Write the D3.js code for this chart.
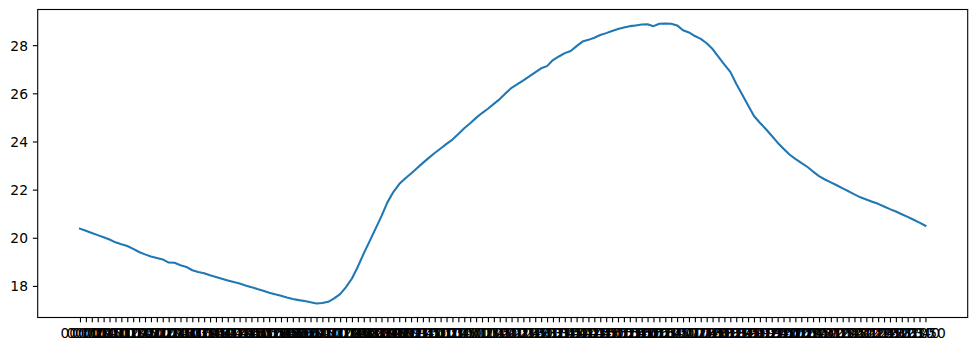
<!DOCTYPE html>
<html>
<head>
<meta charset="utf-8">
<script src="https://cdn.jsdelivr.net/npm/d3@7"></script>
<style>
  html, body { margin: 0; padding: 0; background: #ffffff; }
  svg { display: block; }
</style>
</head>
<body>
<svg id="chart" width="977" height="351"></svg>
<script>
// ---- data ----
// time of day categories, every 10 minutes
const times = d3.range(0, 24 * 60, 10).map(m =>
  String(Math.floor(m / 60)).padStart(2, "0") + ":" + String(m % 60).padStart(2, "0"));

// series values
const values = [
  20.38, 20.29, 20.20, 20.11, 20.02, 19.93, 19.81, 19.73, 19.66, 19.54,
  19.41, 19.31, 19.22, 19.16, 19.10, 18.97, 18.96, 18.86, 18.79, 18.65,
  18.58, 18.53, 18.44, 18.37, 18.30, 18.23, 18.16, 18.10, 18.02, 17.95,
  17.87, 17.80, 17.72, 17.65, 17.59, 17.52, 17.46, 17.41, 17.37, 17.32,
  17.27, 17.29, 17.34, 17.48, 17.66, 17.95, 18.31, 18.80, 19.35, 19.86,
  20.38, 20.90, 21.47, 21.90, 22.23, 22.46, 22.67, 22.89, 23.11, 23.32,
  23.52, 23.71, 23.90, 24.08, 24.31, 24.55, 24.76, 24.98, 25.18, 25.36,
  25.56, 25.76, 26.00, 26.23, 26.38, 26.54, 26.70, 26.87, 27.04, 27.13,
  27.38, 27.53, 27.67, 27.76, 27.96, 28.15, 28.22, 28.31, 28.42, 28.50,
  28.59, 28.67, 28.73, 28.79, 28.82, 28.855, 28.87, 28.79, 28.89, 28.90,
  28.89, 28.82, 28.62, 28.53, 28.38, 28.26, 28.08, 27.84, 27.51, 27.19,
  26.89, 26.40, 25.95, 25.50, 25.06, 24.78, 24.52, 24.24, 23.95, 23.70,
  23.46, 23.28, 23.11, 22.95, 22.75, 22.56, 22.42, 22.30, 22.18, 22.05,
  21.93, 21.80, 21.68, 21.59, 21.50, 21.41, 21.30, 21.19, 21.09, 20.98,
  20.87, 20.75, 20.63, 20.50
];

// y tick values
const yTicks = [18, 20, 22, 24, 26, 28];

// ---- layout ----
const svg = d3.select("#chart");
const plotLeft = 37.7, plotRight = 967.7, plotTop = 9.5, plotBottom = 317.5;
const fontSize = 13.89;
const tickLen = 4.86, tickPad = 4.86;

const n = values.length;
const xPad = (n - 1) * 0.05;
const x = d3.scaleLinear().domain([-xPad, (n - 1) + xPad]).range([plotLeft, plotRight]);

const [vmin, vmax] = d3.extent(values);
const yPad = (vmax - vmin) * 0.05;
const y = d3.scaleLinear().domain([vmin - yPad, vmax + yPad]).range([plotBottom, plotTop]);

// line
const line = d3.line().x((d, i) => x(i)).y(d => y(d));
svg.append("path")
  .datum(values)
  .attr("d", line)
  .attr("fill", "none")
  .attr("stroke", "#1f77b4")
  .attr("stroke-width", 2.08)
  .attr("stroke-linejoin", "round")
  .attr("stroke-linecap", "square");

// x axis
const xAxis = d3.axisBottom(x)
  .tickValues(d3.range(n))
  .tickFormat(i => times[i])
  .tickSize(tickLen)
  .tickPadding(tickPad);
const gx = svg.append("g")
  .attr("transform", `translate(0,${plotBottom})`)
  .call(xAxis);
gx.select(".domain").remove();
gx.selectAll(".tick line").attr("stroke", "#000").attr("stroke-width", 1.11);
gx.selectAll(".tick text")
  .attr("fill", "#000")
  .attr("font-family", "DejaVu Sans")
  .attr("font-size", fontSize)
  .attr("dy", "0.76em");

// y axis
const yAxis = d3.axisLeft(y)
  .tickValues(yTicks)
  .tickFormat(d3.format("d"))
  .tickSize(tickLen)
  .tickPadding(tickPad);
const gy = svg.append("g")
  .attr("transform", `translate(${plotLeft},0)`)
  .call(yAxis);
gy.select(".domain").remove();
gy.selectAll(".tick line").attr("stroke", "#000").attr("stroke-width", 1.11);
gy.selectAll(".tick text")
  .attr("fill", "#000")
  .attr("font-family", "DejaVu Sans")
  .attr("font-size", fontSize)
  .attr("dy", "0.36em");

// frame (spines)
svg.append("rect")
  .attr("x", plotLeft).attr("y", plotTop)
  .attr("width", plotRight - plotLeft).attr("height", plotBottom - plotTop)
  .attr("fill", "none")
  .attr("stroke", "#000")
  .attr("stroke-width", 1.11);
</script>
</body>
</html>
